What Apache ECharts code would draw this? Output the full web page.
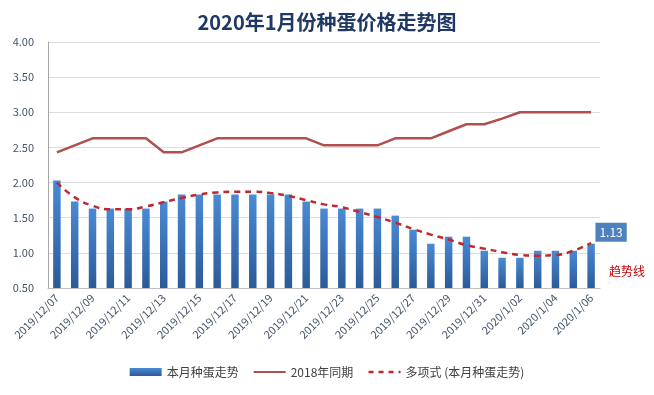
<!DOCTYPE html>
<html>
<head>
<meta charset="utf-8">
<script src="https://cdn.jsdelivr.net/npm/echarts@6/dist/echarts.min.js"></script>
<style>
html,body{margin:0;padding:0;background:#fff;}
#c{width:654px;height:395px;}
</style>
</head>
<body>
<div id="c"></div>
<script>
const categories = [
  '2019/12/07','2019/12/08','2019/12/09','2019/12/10','2019/12/11','2019/12/12','2019/12/13',
  '2019/12/14','2019/12/15','2019/12/16','2019/12/17','2019/12/18','2019/12/19','2019/12/20',
  '2019/12/21','2019/12/22','2019/12/23','2019/12/24','2019/12/25','2019/12/26','2019/12/27',
  '2019/12/28','2019/12/29','2019/12/30','2019/12/31','2020/1/01','2020/1/02','2020/1/03',
  '2020/1/04','2020/1/05','2020/1/06'
];
const thisMonth = [
  2.03,1.73,1.63,1.63,1.63,1.63,1.73,1.83,1.83,1.83,1.83,1.83,1.83,1.83,
  1.73,1.63,1.63,1.63,1.63,1.53,1.33,1.13,1.23,1.23,1.03,0.93,0.93,1.03,1.03,1.03,1.13
];
const lastYear = [
  2.43,2.53,2.63,2.63,2.63,2.63,2.43,2.43,2.53,2.63,2.63,2.63,2.63,2.63,
  2.63,2.53,2.53,2.53,2.53,2.63,2.63,2.63,2.73,2.83,2.83,2.91,3.00,3.00,3.00,3.00,3.00
];
const trend = [
  2.00,1.79,1.67,1.62,1.62,1.66,1.72,1.78,1.83,1.86,1.87,1.87,1.85,1.81,
  1.75,1.69,1.65,1.58,1.51,1.43,1.34,1.26,1.19,1.11,1.06,1.01,0.97,0.96,0.97,1.03,1.14
];
const seriesNames = ['本月种蛋走势','2018年同期','多项式 (本月种蛋走势)'];
const yTicks = [0.5, 4.0, 0.5]; // min, max, interval

const font = 'Noto Sans CJK SC';
const chart = echarts.init(document.getElementById('c'), null, {renderer:'canvas'});
const lastIdx = thisMonth.length - 1;
chart.setOption({
  animation:false,
  textStyle:{fontFamily:font},
  title:{
    text:'2020年1月份种蛋价格走势图',
    left:'center', top:7,
    textStyle:{fontSize:20, fontWeight:'bold', color:'#1f3864', fontFamily:font}
  },
  legend:{
    bottom:12, left:'center',
    itemWidth:32, itemHeight:8, itemGap:14,
    textStyle:{fontSize:12, color:'#404040', fontFamily:font},
    data:[
      {name:seriesNames[0], icon:'rect'},
      {name:seriesNames[1], itemStyle:{opacity:0}},
      {name:seriesNames[2], itemStyle:{opacity:0}, lineStyle:{type:[5,5], width:2.5}}
    ]
  },
  grid:{left:48, right:54, top:42, bottom:107},
  xAxis:{
    type:'category', data:categories,
    axisLine:{lineStyle:{color:'#bfbfbf'}},
    axisTick:{show:false},
    axisLabel:{interval:1, rotate:45, fontSize:11, color:'#44546a', margin:8, fontFamily:font}
  },
  yAxis:{
    type:'value', min:yTicks[0], max:yTicks[1], interval:yTicks[2],
    axisLine:{show:true, lineStyle:{color:'#a6a6a6'}},
    axisTick:{show:false},
    splitLine:{lineStyle:{color:'#dcdde3'}},
    axisLabel:{fontSize:11, color:'#44546a', margin:14, formatter:v=>v.toFixed(2), fontFamily:font}
  },
  graphic:[{
    type:'text', left:609, top:265,
    style:{text:'趋势线', fill:'#c00000', font:'12px "Noto Sans CJK SC"'}
  }],
  series:[
    {
      name:seriesNames[0], type:'bar', barWidth:'42%',
      itemStyle:{color:new echarts.graphic.LinearGradient(0,0,0,1,[
        {offset:0,color:'#4a8ad4'},{offset:1,color:'#2b5b98'}])},
      data:thisMonth.map((v,i)=> i===lastIdx ? {
        value:v,
        label:{show:true, position:'top', distance:2, offset:[20,0],
          formatter:p=>p.value.toFixed(2),
          color:'#fff', fontSize:12, backgroundColor:'#4f81bd', padding:[4,4,3,4], fontFamily:font}
      } : v)
    },
    {
      name:seriesNames[1], type:'line', data:lastYear, symbol:'none',
      lineStyle:{color:'#b0504e', width:2.5}, itemStyle:{color:'#b0504e'}
    },
    {
      name:seriesNames[2], type:'line', data:trend, symbol:'none', smooth:true,
      lineStyle:{color:'#c0282d', width:2.5, type:[6,5]}, itemStyle:{color:'#c0282d'}
    }
  ]
});
</script>
</body>
</html>
